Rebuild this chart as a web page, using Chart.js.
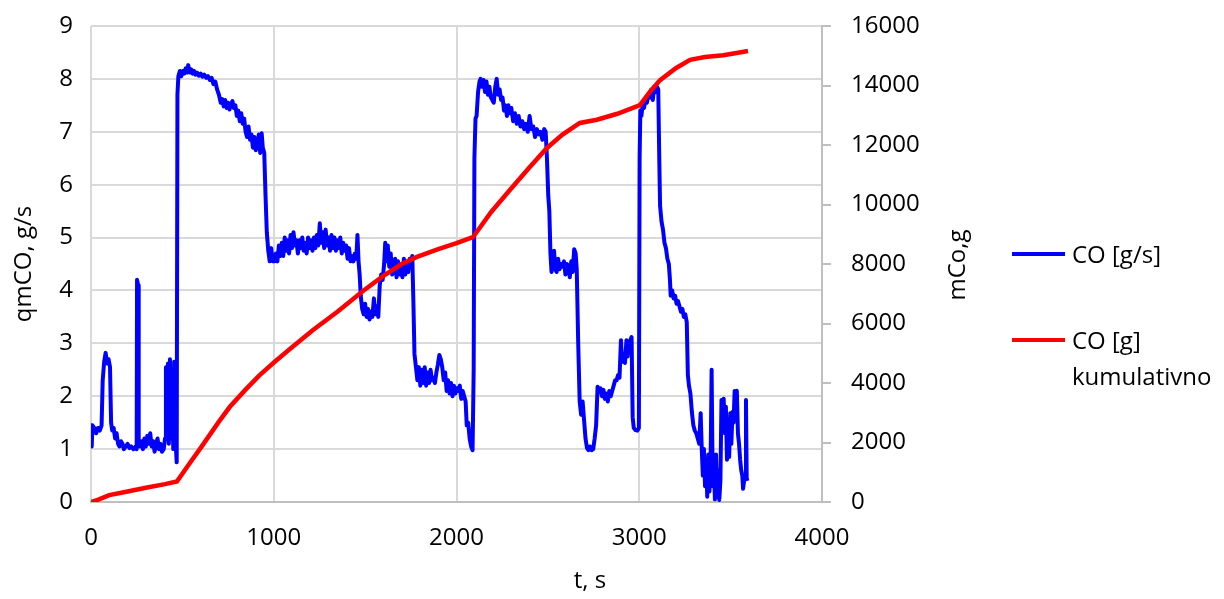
<!DOCTYPE html>
<html>
<head>
<meta charset="utf-8">
<script src="https://cdn.jsdelivr.net/npm/chart.js@4.4.1/dist/chart.umd.min.js"></script>
<style>
  body { margin: 0; background: #fff; }
  #wrap { position: relative; width: 1224px; height: 599px; font-family: 'Open Sans', 'Liberation Sans', sans-serif; color: #000; }
  #chart { position: absolute; left: 0; top: 0; }
  .lbl { position: absolute; font-size: 24px; white-space: nowrap; line-height: 36px; }
  .swatch { position: absolute; width: 53px; height: 4px; }
  #y1title { position: absolute; left: 955px; top: 265px; font-size: 24px; transform: translate(-50%, -50%) rotate(-90deg); white-space: nowrap; }
  #xtitle { position: absolute; left: 590px; top: 578px; font-size: 24px; transform: translate(-50%, -50%); white-space: nowrap; }
</style>
</head>
<body>
<div id="wrap">
  <canvas id="chart" width="1224" height="599"></canvas>
  <div id="y1title">mCo,g</div>
  <div id="xtitle">t, s</div>
  <div class="swatch" style="left:1012px; top:252px; background:#0000ff;"></div>
  <div class="lbl" style="left:1072px; top:236px;">CO [g/s]</div>
  <div class="swatch" style="left:1012px; top:338px; background:#ff0000;"></div>
  <div class="lbl" style="left:1072px; top:322px;">CO [g]<br>kumulativno</div>
</div>
<script>
// CO mass flow [g/s]
const qmTime = [0, 4, 8, 18, 28, 38, 48, 58, 64, 72, 80, 88, 96, 104, 110, 116, 124, 132, 140, 148,
  156, 164, 172, 180, 190, 200, 210, 220, 232, 244, 250, 252, 258, 261, 268, 276, 284, 292, 300, 308,
  316, 324, 332, 340, 348, 356, 364, 372, 380, 388, 398, 405, 410, 416, 421, 426, 432, 438, 444, 450,
  455, 460, 465, 469, 473, 478, 486, 494, 502, 510, 518, 526, 532, 540, 548, 556, 564, 572, 580, 590,
  600, 610, 620, 630, 640, 650, 660, 670, 680, 690, 700, 710, 718, 726, 734, 742, 750, 758, 766, 774,
  782, 790, 798, 806, 814, 822, 830, 838, 846, 854, 862, 870, 878, 886, 894, 902, 910, 918, 926, 934,
  940, 948, 955, 962, 970, 978, 986, 994, 1004, 1012, 1020, 1028, 1036, 1044, 1052, 1060, 1068, 1076, 1084, 1092,
  1100, 1108, 1116, 1124, 1132, 1140, 1148, 1156, 1164, 1172, 1180, 1188, 1196, 1204, 1212, 1220, 1228, 1236, 1244, 1252,
  1260, 1268, 1276, 1284, 1292, 1300, 1308, 1316, 1324, 1332, 1340, 1348, 1356, 1364, 1372, 1380, 1388, 1396, 1404, 1412,
  1420, 1428, 1436, 1444, 1452, 1458, 1464, 1470, 1476, 1484, 1492, 1500, 1508, 1516, 1524, 1532, 1540, 1548, 1556, 1564,
  1572, 1580, 1588, 1596, 1604, 1610, 1616, 1624, 1632, 1640, 1648, 1656, 1664, 1672, 1680, 1688, 1696, 1704, 1712, 1720,
  1728, 1736, 1744, 1752, 1758, 1764, 1770, 1778, 1786, 1794, 1802, 1810, 1818, 1826, 1834, 1842, 1850, 1858, 1866, 1874,
  1882, 1890, 1898, 1906, 1914, 1922, 1930, 1938, 1946, 1954, 1962, 1970, 1978, 1986, 1994, 2002, 2010, 2018, 2026, 2034,
  2042, 2050, 2056, 2064, 2072, 2080, 2088, 2094, 2098, 2104, 2110, 2118, 2126, 2132, 2140, 2148, 2156, 2164, 2172, 2180,
  2188, 2196, 2204, 2212, 2220, 2228, 2236, 2244, 2252, 2260, 2268, 2276, 2284, 2292, 2300, 2310, 2320, 2330, 2340, 2350,
  2360, 2370, 2380, 2390, 2400, 2410, 2420, 2430, 2440, 2450, 2460, 2470, 2480, 2488, 2495, 2502, 2508, 2514, 2520, 2528,
  2534, 2540, 2548, 2556, 2564, 2572, 2580, 2588, 2596, 2604, 2612, 2620, 2628, 2636, 2644, 2652, 2658, 2666, 2674, 2682,
  2690, 2698, 2706, 2714, 2722, 2730, 2740, 2748, 2756, 2764, 2772, 2780, 2788, 2796, 2804, 2812, 2820, 2828, 2836, 2844,
  2852, 2860, 2868, 2876, 2884, 2892, 2900, 2906, 2914, 2922, 2930, 2936, 2942, 2950, 2958, 2964, 2970, 2980, 2990, 2998,
  3002, 3006, 3012, 3018, 3026, 3034, 3042, 3050, 3058, 3066, 3074, 3082, 3090, 3098, 3104, 3110, 3114, 3122, 3130, 3138,
  3146, 3154, 3162, 3168, 3172, 3180, 3188, 3196, 3204, 3212, 3220, 3228, 3236, 3244, 3252, 3260, 3266, 3272, 3280, 3288,
  3296, 3304, 3312, 3320, 3328, 3336, 3342, 3348, 3354, 3360, 3366, 3372, 3378, 3384, 3390, 3396, 3402, 3408, 3414, 3420,
  3426, 3432, 3438, 3444, 3450, 3456, 3462, 3468, 3474, 3480, 3486, 3492, 3498, 3504, 3510, 3516, 3522, 3528, 3534, 3540,
  3546, 3552, 3558, 3564, 3568, 3574, 3580, 3584, 3588, 3592];
const qmValue = [1.45, 1.05, 1.45, 1.4, 1.3, 1.4, 1.35, 1.45, 2.3, 2.65, 2.82, 2.62, 2.7, 2.55, 1.5, 1.35, 1.4, 1.2, 1.3, 1.1,
  1.05, 1.15, 1.1, 1.0, 1.05, 1.1, 1.02, 1.05, 1.0, 1.05, 1.0, 4.2, 4.1, 1.1, 1.05, 1.15, 1.0, 1.2, 1.05, 1.25,
  1.1, 1.3, 1.05, 1.15, 0.95, 1.1, 1.2, 1.0, 1.1, 0.95, 1.0, 1.2, 2.55, 1.3, 2.62, 1.1, 2.7, 1.2, 2.5, 1.0,
  2.65, 1.6, 1.0, 0.75, 7.7, 8.05, 8.15, 8.05, 8.15, 8.1, 8.2, 8.12, 8.26, 8.12, 8.18, 8.1, 8.15, 8.08, 8.12, 8.06,
  8.1, 8.04, 8.08, 8.02, 8.05, 7.98, 8.02, 7.9, 7.95, 7.8, 7.7, 7.55, 7.62, 7.48, 7.6, 7.45, 7.55, 7.42, 7.52, 7.58,
  7.45, 7.5, 7.3, 7.4, 7.2, 7.35, 7.15, 7.25, 7.0, 6.9, 7.1, 6.85, 6.95, 6.7, 6.9, 6.65, 6.75, 6.95, 6.6, 6.97,
  6.7, 6.6, 5.8, 5.1, 4.75, 4.55, 4.8, 4.55, 4.55, 4.7, 4.55, 4.85, 4.65, 4.9, 4.65, 5.0, 4.75, 4.95, 4.7, 5.05,
  4.8, 5.1, 4.85, 4.95, 4.7, 4.95, 4.8, 5.0, 4.75, 4.9, 4.7, 5.0, 4.8, 4.95, 4.75, 5.0, 4.8, 5.05, 4.85, 5.27,
  4.9, 5.1, 4.8, 5.15, 4.85, 5.0, 4.75, 5.05, 4.8, 5.0, 4.75, 4.95, 4.8, 5.0, 4.7, 4.9, 4.75, 4.85, 4.6, 4.8,
  4.55, 4.65, 4.55, 4.7, 4.6, 5.05, 4.55, 4.3, 3.9, 3.65, 3.55, 3.75, 3.5, 3.65, 3.45, 3.6, 3.5, 3.85, 3.55, 3.7,
  3.5, 4.1, 4.3, 4.2, 4.5, 4.9, 4.55, 4.85, 4.45, 4.7, 4.3, 4.35, 4.6, 4.25, 4.55, 4.3, 4.45, 4.25, 4.6, 4.3,
  4.5, 4.35, 4.6, 4.45, 4.65, 3.8, 2.8, 2.55, 2.3, 2.55, 2.2, 2.5, 2.25, 2.55, 2.2, 2.45, 2.25, 2.5, 2.3, 2.35,
  2.25, 2.45, 2.6, 2.78, 2.7, 2.55, 2.3, 2.45, 2.1, 2.3, 2.05, 2.25, 2.0, 2.2, 2.05, 2.15, 2.1, 2.2, 1.95, 2.1,
  2.0, 1.9, 1.45, 1.5, 1.2, 1.05, 0.98, 2.5, 6.5, 7.25, 7.3, 7.75, 7.95, 8.0, 7.85, 7.98, 7.75, 7.95, 7.7, 7.85,
  7.65, 7.6, 7.55, 7.85, 8.0, 7.7, 7.8, 7.6, 7.65, 7.4, 7.5, 7.3, 7.5, 7.35, 7.45, 7.2, 7.35, 7.15, 7.3, 7.1,
  7.2, 7.05, 7.15, 7.0, 7.3, 7.05, 7.1, 6.9, 7.05, 6.95, 7.0, 6.85, 7.05, 7.0, 6.5, 5.8, 5.5, 4.7, 4.35, 4.5,
  4.75, 4.4, 4.35, 4.6, 4.4, 4.5, 4.45, 4.55, 4.3, 4.5, 4.45, 4.25, 4.55, 4.35, 4.78, 4.7, 4.4, 3.0, 1.9, 1.65,
  1.9, 1.55, 1.2, 1.02, 0.98, 1.05, 0.98, 1.0, 1.2, 1.45, 2.18, 2.1, 2.15, 2.0, 2.12, 1.95, 2.05, 1.9, 2.1, 2.0,
  2.1, 2.2, 2.3, 2.3, 2.4, 2.35, 3.06, 2.65, 2.8, 2.63, 3.06, 2.75, 3.0, 3.05, 3.12, 1.6, 1.4, 1.36, 1.35, 1.4,
  6.5, 7.4, 7.3, 7.5, 7.45, 7.6, 7.55, 7.7, 7.65, 7.8, 7.6, 7.85, 7.75, 7.85, 7.8, 6.4, 5.6, 5.3, 5.15, 4.9,
  4.8, 4.6, 4.5, 4.2, 3.9, 4.0, 3.85, 3.9, 3.75, 3.8, 3.7, 3.6, 3.65, 3.5, 3.55, 3.4, 2.4, 2.2, 2.05, 1.7,
  1.45, 1.35, 1.3, 1.2, 1.1, 1.68, 1.0, 0.5, 1.0, 0.3, 0.8, 0.1, 0.9, 0.2, 0.6, 2.5, 0.3, 0.8, 0.05, 0.9,
  0.1, 0.6, 0.04, 0.4, 1.93, 1.5, 1.95, 1.3, 1.8, 0.8, 1.2, 0.85, 1.68, 1.1, 1.7, 1.5, 2.1, 2.05, 2.1, 1.3,
  1.1, 0.8, 0.6, 0.5, 0.25, 0.4, 0.5, 1.93, 0.45, 0.4];

// cumulative CO mass [g]
const cumTime = [0, 40, 100, 180, 300, 405, 470, 540, 605, 700, 760, 843, 920, 1007, 1100, 1215, 1350, 1490, 1600, 1700,
  1784, 1900, 2000, 2090, 2190, 2292, 2400, 2495, 2580, 2675, 2768, 2880, 3004, 3060, 3114, 3200, 3278, 3360, 3460, 3540, 3595];
const cumValue = [0, 80, 230, 330, 480, 600, 690, 1300, 1860, 2700, 3200, 3760, 4250, 4720, 5200, 5780, 6400, 7100, 7600, 8000,
  8240, 8500, 8700, 8900, 9750, 10490, 11250, 11900, 12350, 12740, 12850, 13050, 13340, 13800, 14180, 14580, 14860, 14960, 15020, 15100, 15160];

const xTicks = [0, 1000, 2000, 3000, 4000];

const gridColor = '#d9d9d9';
const axisColor = '#bfbfbf';

Chart.defaults.font.family = "'Open Sans', 'Liberation Sans', sans-serif";
Chart.defaults.font.size = 24;
Chart.defaults.color = '#000';

const plain = v => String(v);

// fixed axis sizes so the plot area lands where the reference has it
function fixWidth(w) {
    return s => {
        s.width = w;
        s.paddingTop = 0;
        s.paddingBottom = 0;
    };
}

const ctx = document.getElementById('chart');
new Chart(ctx, {
    type: 'line',
    data: {
        datasets: [{
            label: 'CO [g] kumulativno',
            data: cumTime.map((t, i) => ({ x: t, y: cumValue[i] })),
            borderColor: '#ff0000',
            borderWidth: 4.5,
            pointRadius: 0,
            tension: 0,
            yAxisID: 'y1',
            order: 0
        }, {
            label: 'CO [g/s]',
            data: qmTime.map((t, i) => ({ x: t, y: qmValue[i] })),
            borderColor: '#0000ff',
            borderWidth: 4,
            borderJoinStyle: 'round',
            pointRadius: 0,
            tension: 0,
            yAxisID: 'y',
            order: 1
        }]
    },
    options: {
        responsive: false,
        animation: false,
        devicePixelRatio: 1,
        layout: { padding: { top: 26, left: 0, right: 0, bottom: 0 } },
        plugins: { legend: { display: false }, tooltip: { enabled: false } },
        scales: {
            x: {
                type: 'linear',
                min: 0,
                max: 4000,
                afterBuildTicks: s => { s.ticks = xTicks.map(v => ({ value: v })); },
                afterFit: s => { s.height = 97; },
                grid: { color: gridColor, lineWidth: 2, drawTicks: false },
                border: { color: axisColor, width: 2 },
                ticks: { padding: 22, callback: plain }
            },
            y: {
                position: 'left',
                min: 0,
                max: 9,
                ticks: { stepSize: 1, padding: 18, callback: plain },
                afterFit: fixWidth(91),
                grid: { color: gridColor, lineWidth: 2, drawTicks: false },
                border: { display: false },
                title: { display: true, text: 'qmCO, g/s', padding: { top: 10, bottom: 8 } }
            },
            y1: {
                position: 'right',
                min: 0,
                max: 16000,
                ticks: { stepSize: 2000, padding: 20, callback: plain },
                afterFit: fixWidth(402),
                grid: { drawOnChartArea: false, color: axisColor, lineWidth: 2, tickLength: 9 },
                border: { color: axisColor, width: 2 }
            }
        }
    }
});
</script>
</body>
</html>
